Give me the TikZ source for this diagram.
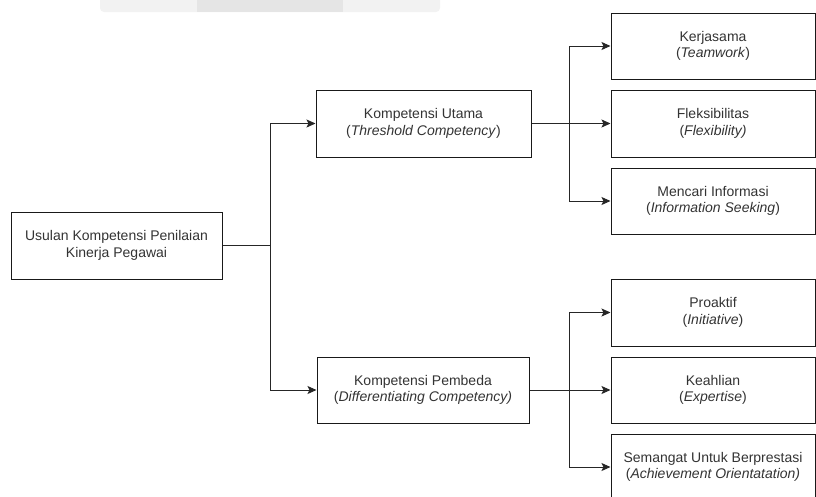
\documentclass[tikz,border=0pt]{standalone}
\usepackage{fontspec}
\setmainfont{Liberation Sans}
\usetikzlibrary{arrows.meta}
\definecolor{txt}{HTML}{333333}
\begin{document}
\begin{tikzpicture}[x=1pt,y=-1pt,
  box/.style={draw=black!90,line width=1pt,rectangle,align=center,text=txt,
    font=\fontsize{14}{16.5}\selectfont,inner sep=0pt},
  conn/.style={draw=black!85,line width=1pt},
  arr/.style={conn,-{Stealth[length=9pt,width=8pt,inset=2pt]}}]
\useasboundingbox (0,0) rectangle (816,496);
\clip (0,0) rectangle (816,496);
% faint band at the top
\fill[black!5,rounded corners=4pt] (100,-10) rectangle (440,12);
\fill[black!10] (197,-10) rectangle (343,12);
% nodes
\node[box,minimum width=211pt,minimum height=67pt] (root) at (116.5,245.5)
  {Usulan Kompetensi Penilaian\\Kinerja Pegawai};
\node[box,minimum width=215pt,minimum height=67pt] (t) at (423.5,123.5)
  {Kompetensi Utama\\(\textit{Threshold Competency})};
\node[box,minimum width=212pt,minimum height=66pt] (d) at (423,390)
  {Kompetensi Pembeda\\(\textit{Differentiating Competency)}};
\node[box,minimum width=204pt,minimum height=66pt] (k1) at (713,46)
  {Kerjasama\\(\textit{Teamwork})};
\node[box,minimum width=204pt,minimum height=67pt] (k2) at (713,123.5)
  {Fleksibilitas\\(\textit{Flexibility)}};
\node[box,minimum width=204pt,minimum height=66pt] (k3) at (713,201)
  {Mencari Informasi\\(\textit{Information Seeking})};
\node[box,minimum width=204pt,minimum height=67pt] (k4) at (713,312.5)
  {Proaktif\\(\textit{Initiative})};
\node[box,minimum width=204pt,minimum height=66pt] (k5) at (713,390)
  {Keahlian\\(\textit{Expertise})};
\node[box,minimum width=204pt,minimum height=66pt] (k6) at (713,467)
  {Semangat Untuk Berprestasi\\(\textit{Achievement Orientatation)}};
% junctions
\coordinate (j1) at (270,245.5);
\coordinate (j2) at (569,123.5);
\coordinate (j3) at (569,390);
% connectors
\draw[conn] (root.east) -- (j1);
\draw[arr] (j1) |- (t.west);
\draw[arr] (j1) |- (d.west);
\draw[conn] (t.east) -- (j2);
\draw[arr] (j2) |- (k1.west);
\draw[arr] (j2) -- (k2.west);
\draw[arr] (j2) |- (k3.west);
\draw[conn] (d.east) -- (j3);
\draw[arr] (j3) |- (k4.west);
\draw[arr] (j3) -- (k5.west);
\draw[arr] (j3) |- (k6.west);
\end{tikzpicture}
\end{document}
